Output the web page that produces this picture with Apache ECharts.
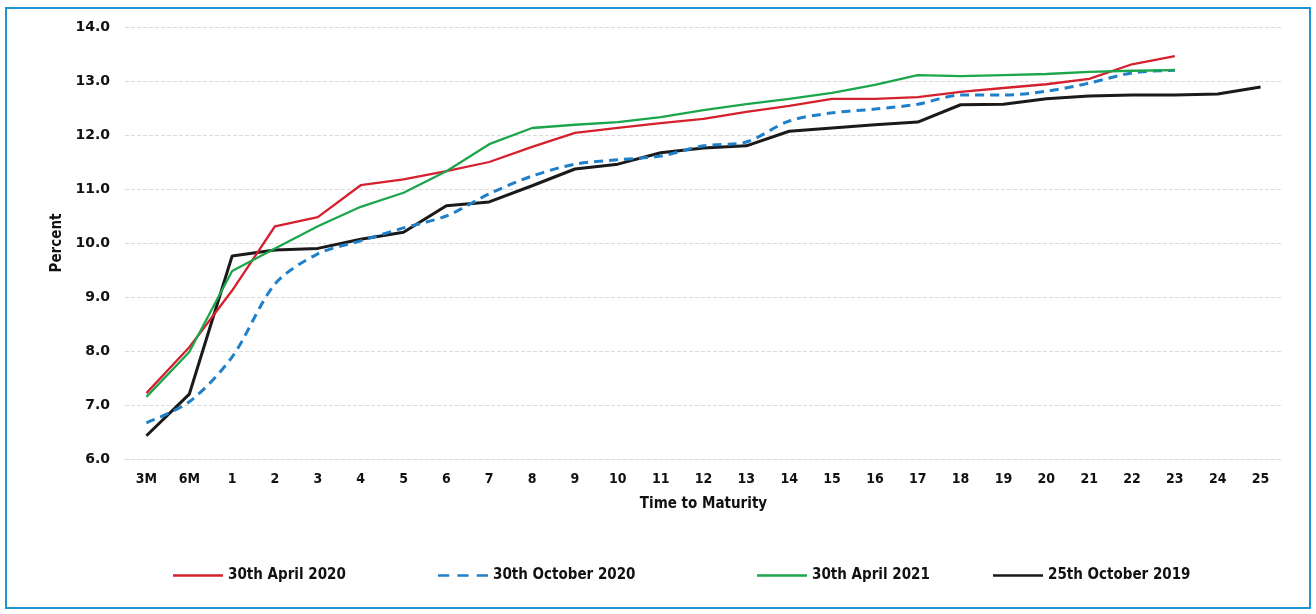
<!DOCTYPE html>
<html>
<head>
<meta charset="utf-8">
<script src="https://cdn.jsdelivr.net/npm/echarts@6/dist/echarts.min.js"></script>
<style>
  html, body { margin: 0; padding: 0; background: #fff; }
  #yield_chart { width: 1316px; height: 614px; }
</style>
</head>
<body>
<div id="yield_chart"></div>
<script>
// 期限 / tick labels
var maturities = ['3M', '6M', '1', '2', '3', '4', '5', '6', '7', '8', '9', '10', '11', '12', '13',
    '14', '15', '16', '17', '18', '19', '20', '21', '22', '23', '24', '25'];
var yTicks = [6, 7, 8, 9, 10, 11, 12, 13, 14];

// yield curves (percent)
var apr2020 = [7.22, 8.07, 9.12, 10.31, 10.48, 11.07, 11.18, 11.33, 11.5, 11.78, 12.04, 12.13, 12.22,
    12.3, 12.43, 12.54, 12.67, 12.67, 12.7, 12.8, 12.87, 12.94, 13.04, 13.31, 13.46];
var oct2020 = [6.67, 7.06, 7.89, 9.24, 9.8, 10.04, 10.28, 10.5, 10.91, 11.24, 11.46, 11.54, 11.61,
    11.8, 11.87, 12.26, 12.41, 12.48, 12.57, 12.74, 12.74, 12.81, 12.96, 13.15, 13.2];
var apr2021 = [7.15, 7.98, 9.48, 9.9, 10.31, 10.67, 10.93, 11.33, 11.83, 12.13, 12.19, 12.24, 12.33,
    12.46, 12.57, 12.67, 12.78, 12.93, 13.11, 13.09, 13.11, 13.13, 13.17, 13.19, 13.2];
var oct2019 = [6.43, 7.2, 9.76, 9.87, 9.9, 10.07, 10.2, 10.69, 10.76, 11.06, 11.37, 11.46, 11.67,
    11.76, 11.8, 12.07, 12.13, 12.19, 12.24, 12.56, 12.57, 12.67, 12.72, 12.74, 12.74, 12.76, 12.89];

var seriesNames = ['30th April 2020', '30th October 2020', '30th April 2021', '25th October 2019'];

var chart = echarts.init(document.getElementById('yield_chart'));

var condFont = '"Liberation Sans Narrow", "DejaVu Sans Condensed", "Roboto", sans-serif';
var legendText = { color: '#111', fontSize: 15, fontWeight: 'bold', fontFamily: condFont };

var solidIcon = 'path://M0,6 L50,6 L50,8.4 L0,8.4 Z';
var dashIcon = 'path://M0,6 L11,6 L11,8.6 L0,8.6 Z M19,6 L30,6 L30,8.6 L19,8.6 Z M38,6 L49,6 L49,8.6 L38,8.6 Z';

function legendAt(name, left, icon) {
    return {
        data: [{ name: name, icon: icon }],
        left: left,
        top: 563,
        itemWidth: 50,
        itemHeight: 14,
        itemGap: 4,
        textStyle: legendText
    };
}

var option = {
    backgroundColor: '#FFFFFF',
    animation: false,
    grid: { left: 125, right: 34, top: 27, bottom: 155 },
    legend: [
        legendAt(seriesNames[0], 168, solidIcon),
        legendAt(seriesNames[1], 433, dashIcon),
        legendAt(seriesNames[2], 752, solidIcon),
        legendAt(seriesNames[3], 988, solidIcon)
    ],
    graphic: [{
        type: 'rect',
        shape: { x: 6, y: 8, width: 1304, height: 600 },
        style: { fill: 'none', stroke: '#1d97d4', lineWidth: 2 },
        silent: true
    }],
    xAxis: {
        type: 'category',
        data: maturities,
        boundaryGap: true,
        name: 'Time to Maturity',
        nameLocation: 'middle',
        nameGap: 38,
        nameTextStyle: { color: '#111', fontSize: 15, fontWeight: 'bold', fontFamily: condFont },
        axisLine: { show: true, lineStyle: { color: '#dcdcdc', type: 'dashed' } },
        axisTick: { show: false },
        axisLabel: { color: '#111', fontSize: 14, fontWeight: 'bold', fontFamily: condFont, margin: 13 }
    },
    yAxis: {
        type: 'value',
        min: yTicks[0],
        max: yTicks[yTicks.length - 1],
        interval: 1,
        name: 'Percent',
        nameLocation: 'middle',
        nameRotate: 90,
        nameGap: 60,
        nameTextStyle: { color: '#111', fontSize: 15, fontWeight: 'bold', fontFamily: condFont },
        axisLine: { show: false },
        axisTick: { show: false },
        splitLine: { lineStyle: { color: '#dcdcdc', type: 'dashed' } },
        axisLabel: {
            color: '#111', fontSize: 14, fontWeight: 'bold', fontFamily: '"DejaVu Sans", sans-serif',
            margin: 15,
            formatter: function (v) { return v.toFixed(1); }
        }
    },
    series: [{
        name: seriesNames[0],
        type: 'line',
        symbol: 'none',
        data: apr2020,
        itemStyle: { color: '#d5202e' },
        lineStyle: { width: 2.3, color: '#d5202e' },
        z: 3
    }, {
        name: seriesNames[1],
        type: 'line',
        symbol: 'none',
        smooth: 0.3,
        data: oct2020,
        itemStyle: { color: '#1f80c9' },
        lineStyle: { width: 3, color: '#1f80c9', type: [9, 6] },
        z: 2
    }, {
        name: seriesNames[2],
        type: 'line',
        symbol: 'none',
        data: apr2021,
        itemStyle: { color: '#1ba64c' },
        lineStyle: { width: 2.3, color: '#1ba64c' },
        z: 4
    }, {
        name: seriesNames[3],
        type: 'line',
        symbol: 'none',
        data: oct2019,
        itemStyle: { color: '#1a1a1a' },
        lineStyle: { width: 3, color: '#1a1a1a' },
        z: 1
    }]
};

chart.setOption(option);
</script>
</body>
</html>
